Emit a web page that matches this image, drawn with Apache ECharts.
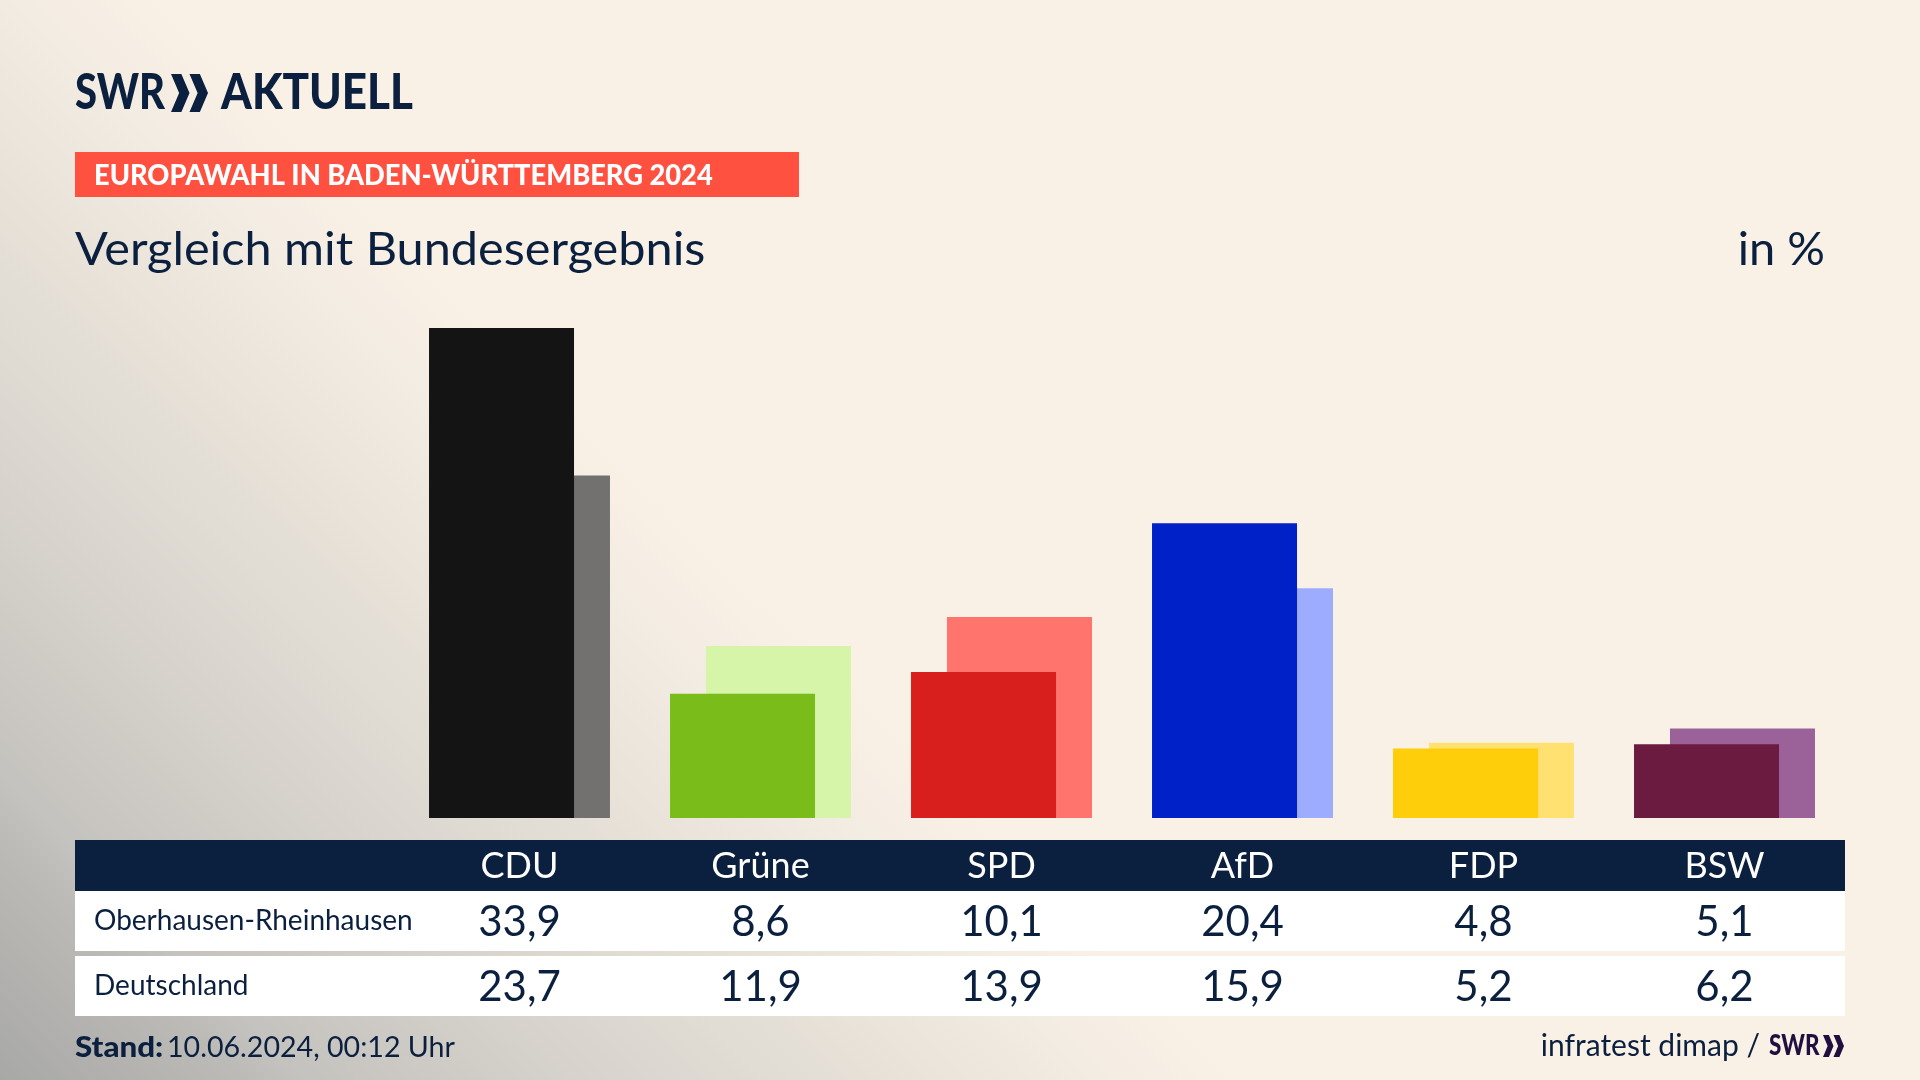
<!DOCTYPE html>
<html>
<head>
<meta charset="utf-8">
<title>Vergleich mit Bundesergebnis</title>
<script src="https://cdn.jsdelivr.net/npm/echarts@6/dist/echarts.min.js"></script>
<style>
    html, body { margin: 0; width: 1920px; height: 1080px; overflow: hidden; }
    body { background: linear-gradient(45deg, #a8a8a7 0%, #bcbab6 8%, #c4c2be 10%, #d8d4cd 20%, #e8e2d9 30%, #f3ece2 36.7%, #faf1e6 41.7%); }
    #chart { width: 1920px; height: 1080px; }
</style>
</head>
<body>
<div id="chart"></div>
<script>
const parties = ["CDU", "Grüne", "SPD", "AfD", "FDP", "BSW"];
const regionValues = [33.9, 8.6, 10.1, 20.4, 4.8, 5.1];
const germanyValues = [23.7, 11.9, 13.9, 15.9, 5.2, 6.2];
const regionColors = ["#141414", "#7abd1b", "#d81f1e", "#0020c8", "#ffce0a", "#6b1a40"];
const germanyColors = ["#72716f", "#d6f5a8", "#ff746c", "#9dacff", "#ffe172", "#9a6298"];

const navy = "#0b1f3e";
const font = "Lato";

const decimal = (v) => v.toFixed(1).replace(".", ",");

const rect = (x, y, width, height, fill) => ({
    type: "rect", z: 1, shape: { x, y, width, height }, style: { fill }
});

const text = (x, y, value, size, extra, scaleX) => ({
    type: "text", z: 6, x, y, scaleX: scaleX || 1,
    style: Object.assign({ text: value, fontFamily: font, fontSize: size, fill: navy, textVerticalAlign: "middle" }, extra)
});

const chevrons = (x, y, w, h, fill) => [0, 1].map((i) => ({
    type: "polygon", z: 6,
    shape: {
        points: [
            [x + i * w * 0.5, y],
            [x + i * w * 0.5 + w * 0.28, y],
            [x + i * w * 0.5 + w * 0.5, y + h / 2],
            [x + i * w * 0.5 + w * 0.28, y + h],
            [x + i * w * 0.5, y + h],
            [x + i * w * 0.5 + w * 0.22, y + h / 2]
        ]
    },
    style: { fill }
}));

// the table rows are labelled by extra category axes, offset below the bars
const tableAxis = (labels, offset, color, size) => ({
    type: "category",
    data: labels,
    position: "bottom",
    offset,
    z: 5,
    axisLine: { show: false },
    axisTick: { show: false },
    axisLabel: { interval: 0, margin: 0, color, fontFamily: font, fontSize: size, verticalAlign: "middle" }
});

const barSeries = (name, values, colors, z) => ({
    name,
    type: "bar",
    z,
    xAxisIndex: 0,
    barWidth: 145,
    barGap: "-75.2%",
    data: values.map((value, i) => ({ value, itemStyle: { color: colors[i] } }))
});

const chart = echarts.init(document.getElementById("chart"));

chart.setOption({
    animation: false,
    grid: { left: 399, right: 75, top: 328, bottom: 262 },
    xAxis: [
        tableAxis(parties, 48, "#ffffff", 36),
        tableAxis(regionValues.map(decimal), 104, navy, 42),
        tableAxis(germanyValues.map(decimal), 169, navy, 42)
    ],
    yAxis: { type: "value", min: 0, max: 33.9, show: false },
    series: [
        barSeries("Oberhausen-Rheinhausen", regionValues, regionColors, 3),
        barSeries("Deutschland", germanyValues, germanyColors, 2)
    ],
    graphic: [
        rect(75, 152, 724, 45, "#ff5040"),
        rect(75, 840, 1770, 51, navy),
        rect(75, 891, 1770, 60, "#ffffff"),
        rect(75, 956, 1770, 60, "#ffffff"),
        text(75, 93, "SWR", 50, { fontWeight: 900 }, 0.8),
        ...chevrons(171, 74, 37, 38, navy),
        text(221, 93, "AKTUELL", 50, { fontWeight: 900 }, 0.88),
        text(94, 176, "EUROPAWAHL IN BADEN-WÜRTTEMBERG 2024", 29, { fontWeight: 900, fill: "#ffffff" }, 0.94),
        text(75, 250, "Vergleich mit Bundesergebnis", 47, {}, 1.035),
        text(1825, 250, "in %", 47, { textAlign: "right" }),
        text(94, 921, "Oberhausen-Rheinhausen", 28),
        text(94, 986, "Deutschland", 28),
        text(75, 1048, "Stand:", 29, { fontWeight: 900 }, 1.08),
        text(167, 1048, "10.06.2024, 00:12 Uhr", 28.6),
        text(1760, 1046, "infratest dimap /", 30, { textAlign: "right" }),
        text(1769, 1046, "SWR", 28, { fontWeight: 900, fill: "#1f1040" }, 0.8),
        ...chevrons(1823, 1035, 21, 22, "#1f1040")
    ]
});
</script>
</body>
</html>
